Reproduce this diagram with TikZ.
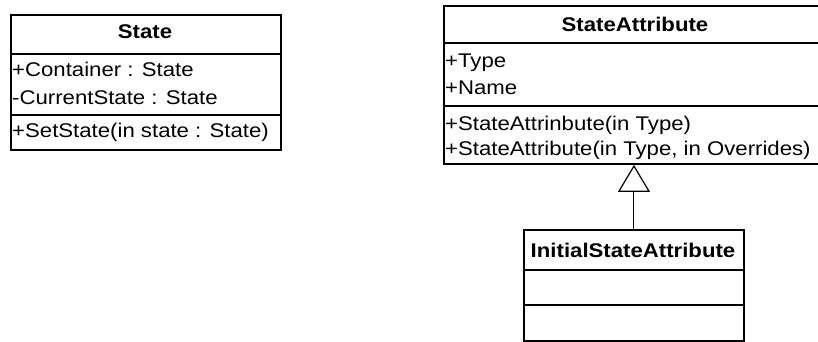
\documentclass[tikz,border=0pt]{standalone}
\usepackage{fontspec}
\setmainfont[FakeStretch=1.12]{Liberation Sans}
\usetikzlibrary{arrows.meta}
\tikzset{
  classbox/.style={draw, line width=1.9pt, inner sep=0pt, anchor=north west},
  sepline/.style={line width=1.9pt},
  member/.style={anchor=base west, inner sep=0pt, font=\fontsize{19.8}{23}\selectfont},
  classname/.style={anchor=base, inner sep=0pt, font=\fontsize{19.8}{23}\selectfont\bfseries},
  inherit/.style={line width=1pt, -{Triangle[open, length=27pt, width=32pt, line width=1.2pt]}}
}
\begin{document}
\begin{tikzpicture}[x=1pt, y=-1pt]
\useasboundingbox (0,0) rectangle (818,342);

% State
\node[classbox, minimum width=270pt, minimum height=135pt] (state) at (10,14) {};
\draw[sepline] (10,54) -- (280,54);
\draw[sepline] (10,115) -- (280,115);
\node[classname] (stateT) at (145,39) {State};
\node[member] (stateA1) at (12,77) {+Container : State};
\node[member] (stateA2) at (12,104) {-CurrentState : State};
\node[member] (stateM1) at (12,137) {+SetState(in state : State)};

% StateAttribute
\node[classbox, minimum width=384pt, minimum height=158pt] (sa) at (443,5) {};
\draw[sepline] (443,43) -- (827,43);
\draw[sepline] (443,106) -- (827,106);
\node[classname] (saT) at (635,32) {StateAttribute};
\node[member] (saA1) at (445,68) {+Type};
\node[member] (saA2) at (445,95) {+Name};
\node[member] (saM1) at (445,130) {+StateAttrinbute(in Type)};
\node[member] (saM2) at (445,155) {+StateAttribute(in Type, in Overrides)};

% InitialStateAttribute
\node[classbox, minimum width=220pt, minimum height=111pt] (isa) at (523,229) {};
\draw[sepline] (523,270) -- (743,270);
\draw[sepline] (523,305) -- (743,305);
\node[classname] (isaT) at (633,257) {InitialStateAttribute};

% Generalization
\draw[inherit] (isa.north) -- (isa.north |- sa.south);
\end{tikzpicture}
\end{document}
